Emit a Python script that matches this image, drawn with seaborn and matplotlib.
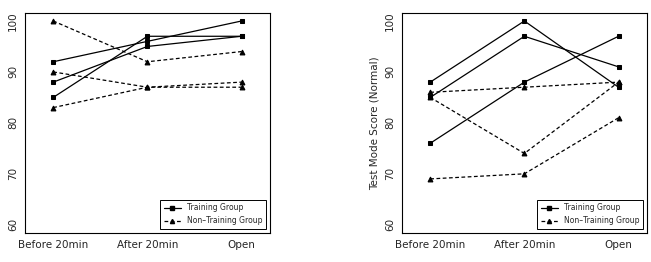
import pandas as pd
import numpy as np
import matplotlib.pyplot as plt
import seaborn as sns
from matplotlib.lines import Line2D

phases = ["Before 20min", "After 20min", "Open"]

# left panel
left_training = [[92, 96, 100], [88, 95, 97], [85, 97, 97]]
left_non_training = [[100, 92, 94], [90, 87, 88], [83, 87, 87]]

# right panel
right_training = [[88, 100, 87], [85, 97, 91], [76, 88, 97]]
right_non_training = [[86, 87, 88], [85, 74, 88], [69, 70, 81]]

y_label_right = "Test Mode Score (Normal)"

sns.set_style("white")
plt.rcParams["font.family"] = ["DejaVu Sans"]


def to_frame(training, non_training):
    rows = []
    for i, vals in enumerate(training):
        for j, v in enumerate(vals):
            rows.append({"pos": j + 1, "score": v, "group": "Training Group", "unit": f"t{i}"})
    for i, vals in enumerate(non_training):
        for j, v in enumerate(vals):
            rows.append({"pos": j + 1, "score": v, "group": "Non-Training Group", "unit": f"n{i}"})
    return pd.DataFrame(rows)


def draw_panel(ax, training, non_training, ylabel=None):
    df = to_frame(training, non_training)
    sns.lineplot(
        data=df, x="pos", y="score", units="unit", estimator=None,
        style="group", markers={"Training Group": "s", "Non-Training Group": "^"},
        dashes={"Training Group": "", "Non-Training Group": (3, 2)},
        color="black", linewidth=0.9, markersize=3.5, markeredgecolor="black",
        legend=False, ax=ax
    )
    ax.set_xlim(0.7, 3.3)
    ax.set_ylim(58.4, 101.6)
    ax.set_xticks([1, 2, 3])
    ax.set_xticklabels(phases, fontsize=7.5)
    ax.set_yticks([60, 70, 80, 90, 100])
    ax.set_yticklabels(["60", "70", "80", "90", "100"], rotation=90, va="center", fontsize=7.5)
    ax.tick_params(axis="both", direction="out", length=3, width=0.6, color="black", pad=2)
    for s in ax.spines.values():
        s.set_color("black")
        s.set_linewidth(0.8)
    ax.set_xlabel("")
    ax.set_ylabel(ylabel if ylabel else "", fontsize=7.5)

    handles = [
        Line2D([0], [0], color="black", lw=0.9, marker="s", markersize=3, label="Training Group"),
        Line2D([0], [0], color="black", lw=0.9, ls=(0, (3, 2)), marker="^", markersize=3,
               label="Non\u2013Training Group"),
    ]
    leg = ax.legend(handles=handles, loc="lower right", fontsize=5.5, frameon=True,
                    fancybox=False, edgecolor="black", framealpha=1,
                    handlelength=2.2, borderaxespad=0.5, borderpad=0.5)
    leg.get_frame().set_linewidth(0.7)


fig = plt.figure(figsize=(6.51, 2.62), dpi=100)
ax1 = fig.add_axes([0.0384, 0.111, 0.376, 0.84])
ax2 = fig.add_axes([0.6175, 0.111, 0.376, 0.84])

draw_panel(ax1, left_training, left_non_training)
draw_panel(ax2, right_training, right_non_training, y_label_right)

fig.savefig("out.png", dpi=100)
